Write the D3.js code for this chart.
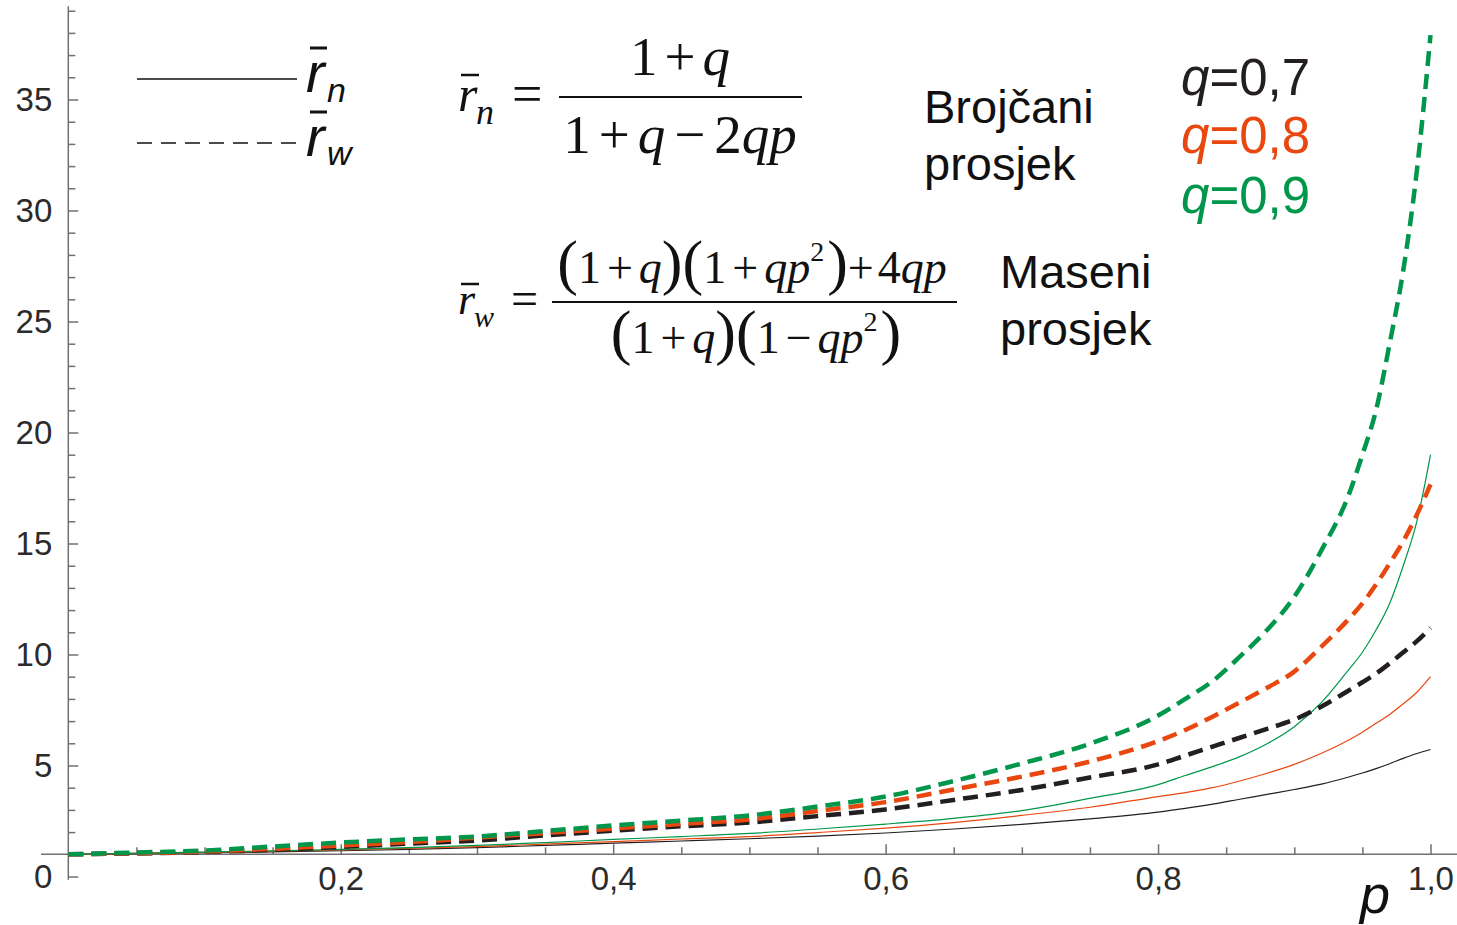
<!DOCTYPE html>
<html>
<head>
<meta charset="utf-8">
<script src="https://cdn.jsdelivr.net/npm/d3@7"></script>
<style>
body { margin: 0; background: #fff; }
</style>
</head>
<body>
<svg id="graf" width="1457" height="925"></svg>
<script>
// vrijednosti ocitane sa slike
const pVals = [0, 0.05, 0.1, 0.15, 0.2, 0.25, 0.3, 0.35, 0.4, 0.45, 0.5, 0.55, 0.6, 0.65, 0.7, 0.75,
               0.8, 0.82, 0.84, 0.86, 0.88, 0.9, 0.92, 0.94, 0.95, 0.96, 0.97, 0.98, 0.99, 1.0];

const rnQ07 = [1.0, 1.03, 1.07, 1.11, 1.16, 1.22, 1.3, 1.4, 1.5, 1.6, 1.7, 1.82, 1.96, 2.14, 2.35, 2.6,
               2.9, 3.07, 3.26, 3.48, 3.7, 3.92, 4.16, 4.48, 4.66, 4.86, 5.08, 5.32, 5.54, 5.72];
const rnQ08 = [1.0, 1.04, 1.09, 1.14, 1.2, 1.27, 1.35, 1.46, 1.57, 1.69, 1.8, 1.98, 2.18, 2.43, 2.75, 3.12,
               3.6, 3.78, 4.0, 4.3, 4.65, 5.05, 5.55, 6.15, 6.5, 6.9, 7.3, 7.78, 8.3, 9.0];
const rnQ09 = [1.0, 1.05, 1.1, 1.15, 1.22, 1.3, 1.4, 1.53, 1.67, 1.8, 1.94, 2.14, 2.36, 2.62, 2.97, 3.52,
               4.14, 4.55, 4.95, 5.4, 5.98, 6.75, 7.84, 9.32, 10.1, 11.1, 12.3, 14.0, 16.0, 19.0];

const rwQ07 = [1.0, 1.04, 1.1, 1.2, 1.33, 1.48, 1.62, 1.85, 2.06, 2.26, 2.43, 2.72, 3.02, 3.45, 3.9, 4.46,
               5.05, 5.45, 5.85, 6.25, 6.65, 7.07, 7.66, 8.38, 8.75, 9.14, 9.6, 10.1, 10.6, 11.2];
const rwQ08 = [1.0, 1.05, 1.12, 1.25, 1.4, 1.55, 1.75, 1.96, 2.16, 2.37, 2.57, 2.95, 3.35, 3.92, 4.5, 5.18,
               6.1, 6.6, 7.2, 7.84, 8.5, 9.23, 10.36, 11.6, 12.3, 13.15, 14.1, 15.1, 16.3, 17.66];
const rwQ09 = [1.0, 1.08, 1.17, 1.35, 1.53, 1.67, 1.8, 2.05, 2.3, 2.52, 2.75, 3.15, 3.6, 4.3, 5.09, 5.98,
               7.25, 8.0, 8.8, 9.9, 11.1, 12.6, 14.7, 17.2, 19.0, 21.0, 24.0, 27.3, 31.8, 37.9];

const qLabels = ["0,7", "0,8", "0,9"];
const boje = ["#231f20", "#e8470f", "#00964b"];

const xTickMajor = [0.2, 0.4, 0.6, 0.8, 1.0];
const xTickLabels = ["0,2", "0,4", "0,6", "0,8", "1,0"];
const yTickMajor = [0, 5, 10, 15, 20, 25, 30, 35];

const serije = [
    { rn: rnQ07, rw: rwQ07 },
    { rn: rnQ08, rw: rwQ08 },
    { rn: rnQ09, rw: rwQ09 }
];

const svg = d3.select("#graf");
const sans = "'Liberation Sans', Arial, sans-serif";
const serif = "'Liberation Serif', 'Times New Roman', serif";
const osiBoja = "#707070";

const x = d3.scaleLinear().domain([0, 1]).range([68.3, 1430.5]);
const y = d3.scaleLinear().domain([0, 35]).range([876.5, 99.5]);

// osi
const xOs = y(1);
svg.append("line")
    .attr("x1", 41).attr("x2", 1457)
    .attr("y1", xOs).attr("y2", xOs)
    .attr("stroke", osiBoja).attr("stroke-width", 1.5);
svg.append("line")
    .attr("x1", x(0)).attr("x2", x(0))
    .attr("y1", y(-0.15)).attr("y2", y(39.2))
    .attr("stroke", osiBoja).attr("stroke-width", 1.5);

let xMinor = d3.range(1, 20).map(i => i * 0.05).filter(v => Math.abs(v * 5 - Math.round(v * 5)) > 1e-6);
let yMinor = d3.range(0, 40).filter(v => v % 5 != 0 && v != 1);

svg.append("g")
    .attr("transform", "translate(0," + xOs + ")")
    .call(d3.axisBottom(x).tickValues(xMinor).tickSize(-7).tickFormat(""))
    .call(g => g.select(".domain").remove())
    .selectAll("line").attr("stroke", osiBoja).attr("stroke-width", 1.5);

let xg = svg.append("g")
    .attr("transform", "translate(0," + xOs + ")")
    .call(d3.axisBottom(x).tickValues(xTickMajor).tickSize(-10).tickPadding(12.5)
        .tickFormat((d, i) => xTickLabels[i]));
xg.select(".domain").remove();
xg.selectAll("line").attr("stroke", osiBoja).attr("stroke-width", 1.5);
xg.selectAll("text").attr("font-family", sans).attr("font-size", 33).attr("fill", "#2b2b2b");

svg.append("g")
    .attr("transform", "translate(" + x(0) + ",0)")
    .call(d3.axisLeft(y).tickValues(yMinor).tickSize(-7).tickFormat(""))
    .call(g => g.select(".domain").remove())
    .selectAll("line").attr("stroke", osiBoja).attr("stroke-width", 1.5);

let yg = svg.append("g")
    .attr("transform", "translate(" + x(0) + ",0)")
    .call(d3.axisLeft(y).tickValues(yTickMajor).tickSize(-10).tickPadding(16));
yg.select(".domain").remove();
yg.selectAll("line").attr("stroke", osiBoja).attr("stroke-width", 1.5);
yg.selectAll("text").attr("font-family", sans).attr("font-size", 33).attr("fill", "#2b2b2b");

// krivulje
const linija = () => d3.line()
    .x((d, i) => x(pVals[i]))
    .y(d => y(d))
    .curve(d3.curveMonotoneX);

serije.forEach((s, i) => {
    svg.append("path")
        .attr("d", linija()(s.rn))
        .attr("fill", "none")
        .attr("stroke", boje[i])
        .attr("stroke-width", 1.2);
});
serije.forEach((s, i) => {
    svg.append("path")
        .attr("d", linija()(s.rw))
        .attr("fill", "none")
        .attr("stroke", boje[i])
        .attr("stroke-width", 4.5)
        .attr("stroke-dasharray", "15,8");
});

// legenda
svg.append("line").attr("x1", 137).attr("x2", 297).attr("y1", 79).attr("y2", 79)
    .attr("stroke", "#111").attr("stroke-width", 1.3);
svg.append("line").attr("x1", 137).attr("x2", 297).attr("y1", 143).attr("y2", 143)
    .attr("stroke", "#111").attr("stroke-width", 1.3).attr("stroke-dasharray", "15,9");

let rBar = (xx, yy, sub, bar, font, rSize, subSize, subDx, subY) => {
    svg.append("text").attr("x", xx).attr("y", yy)
        .attr("font-family", font).attr("font-style", "italic").attr("font-size", rSize)
        .attr("fill", "#111").text("r");
    svg.append("line").attr("x1", bar[0]).attr("x2", bar[1]).attr("y1", bar[2]).attr("y2", bar[2])
        .attr("stroke", "#111").attr("stroke-width", bar[3]);
    svg.append("text").attr("x", xx + subDx).attr("y", subY)
        .attr("font-family", font).attr("font-style", "italic").attr("font-size", subSize)
        .attr("fill", "#111").text(sub);
};
rBar(306, 92, "n", [310, 327, 48, 3], sans, 56, 34, 21, 102);
rBar(306, 156, "w", [310, 327, 112, 3], sans, 56, 34, 21, 165);

// formule
let formula = (cx, by, size, parts) => {
    let t = svg.append("text").attr("x", cx).attr("y", by)
        .attr("text-anchor", "middle")
        .attr("font-family", serif).attr("font-size", size).attr("fill", "#111");
    parts.forEach(p => {
        let ts = t.append("tspan").text(p.t);
        if (p.i) ts.attr("font-style", "italic");
        if (p.s) ts.attr("font-size", p.s);
        if (p.dx) ts.attr("dx", p.dx);
        if (p.dy) ts.attr("dy", p.dy);
    });
};

rBar(458, 111, "n", [461, 479, 75, 2.5], serif, 50, 36, 18, 124);
svg.append("text").attr("x", 512).attr("y", 112).attr("font-family", serif).attr("font-size", 54)
    .attr("fill", "#111").text("=");
svg.append("line").attr("x1", 559).attr("x2", 802).attr("y1", 97).attr("y2", 97)
    .attr("stroke", "#111").attr("stroke-width", 2);
formula(680, 75, 55, [{ t: "1" }, { t: "+", dx: 7 }, { t: "q", i: 1, dx: 7 }]);
formula(680, 153, 55, [{ t: "1" }, { t: "+", dx: 8 }, { t: "q", i: 1, dx: 8 }, { t: "−", dx: 9 },
    { t: "2", dx: 9 }, { t: "qp", i: 1 }]);

rBar(458, 314, "w", [461, 479, 284, 2.5], serif, 44, 30, 16, 327);
svg.append("text").attr("x", 511).attr("y", 315).attr("font-family", serif).attr("font-size", 48)
    .attr("fill", "#111").text("=");
svg.append("line").attr("x1", 552).attr("x2", 957).attr("y1", 302).attr("y2", 302)
    .attr("stroke", "#111").attr("stroke-width", 2);
const P = 62;
formula(752, 283, 46, [{ t: "(", s: P }, { t: "1" }, { t: "+", dx: 6 }, { t: "q", i: 1, dx: 6 }, { t: ")", s: P },
    { t: "(", s: P }, { t: "1" }, { t: "+", dx: 6 }, { t: "qp", i: 1, dx: 6 }, { t: "2", s: 28, dy: -22 },
    { t: ")", s: P, dy: 22, dx: 3 }, { t: "+" }, { t: "4", dx: 4 }, { t: "qp", i: 1 }]);
formula(756, 353, 46, [{ t: "(", s: P }, { t: "1" }, { t: "+", dx: 6 }, { t: "q", i: 1, dx: 6 }, { t: ")", s: P },
    { t: "(", s: P }, { t: "1" }, { t: "−", dx: 6 }, { t: "qp", i: 1, dx: 6 }, { t: "2", s: 28, dy: -22 },
    { t: ")", s: P, dy: 22, dx: 3 }]);

// opisi
let opis = (xx, yy, txt) => svg.append("text").attr("x", xx).attr("y", yy)
    .attr("font-family", sans).attr("font-size", 47).attr("fill", "#111").text(txt);
opis(924, 123, "Brojčani");
opis(924, 180, "prosjek");
opis(1000, 288, "Maseni");
opis(1000, 345, "prosjek");

const qY = [95, 153, 213];
qLabels.forEach((l, i) => {
    let t = svg.append("text").attr("x", 1181).attr("y", qY[i])
        .attr("font-family", sans).attr("font-size", 51).attr("fill", boje[i]);
    t.append("tspan").attr("font-style", "italic").text("q");
    t.append("tspan").text("=" + l);
});

svg.append("text").attr("x", 1375).attr("y", 913).attr("text-anchor", "middle")
    .attr("font-family", sans).attr("font-style", "italic").attr("font-size", 54)
    .attr("fill", "#111").text("p");
</script>
</body>
</html>
